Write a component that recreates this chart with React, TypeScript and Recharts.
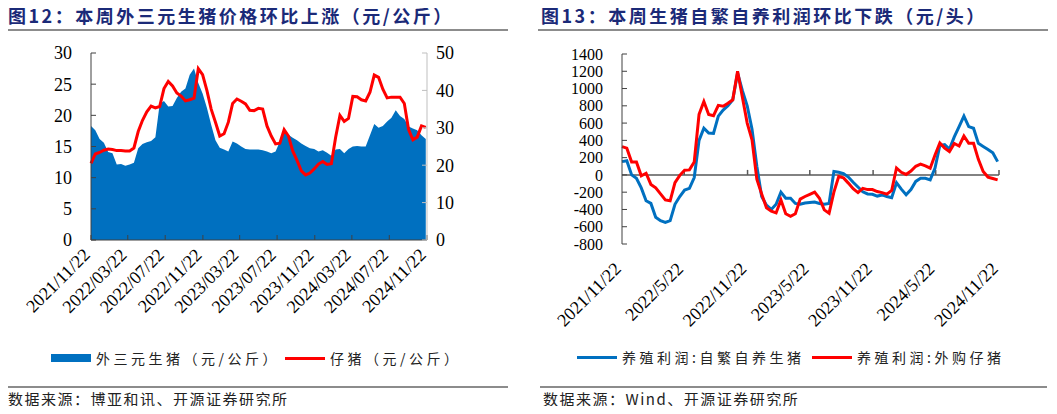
import React from "react";
import { ComposedChart, LineChart, Area, Line, XAxis, YAxis, ReferenceLine } from "recharts";

// weekly series sampled every two weeks from 2021/11/22
const START = Date.UTC(2021, 10, 22);
const STEP_DAYS = 14;
const dayOf = (s: string) => {
  const [y, m, d] = s.split("/").map(Number);
  return Math.round((Date.UTC(y, m - 1, d) - START) / 86400000);
};

const leftTickLabels = [
  "2021/11/22", "2022/03/22", "2022/07/22", "2022/11/22", "2023/03/22",
  "2023/07/22", "2023/11/22", "2024/03/22", "2024/07/22", "2024/11/22",
];
const rightTickLabels = [
  "2021/11/22", "2022/5/22", "2022/11/22", "2023/5/22", "2023/11/22", "2024/5/22", "2024/11/22",
];

// 外三元生猪（元/公斤）
const sanYuanPrice = [
  18.3, 17.6, 16.2, 15.6, 14.1, 13.9, 12.1, 12.2, 11.9, 12.1,
  12.4, 14.7, 15.4, 15.7, 15.9, 16.5, 21.8, 22.3, 21.4, 21.5,
  22.8, 23.8, 24.3, 26.5, 27.5, 25.2, 23.5, 21.2, 18.5, 16.0,
  14.8, 14.5, 14.2, 15.8, 15.5, 15.0, 14.6, 14.5, 14.5, 14.5,
  14.4, 14.2, 13.9, 14.2, 15.8, 17.1, 16.9, 16.4, 16.0, 15.5,
  15.1, 14.7, 14.6, 14.2, 14.4, 14.0, 13.5, 14.5, 14.6, 13.9,
  14.6, 15.0, 15.1, 15.0, 15.0, 16.8, 18.6, 18.0, 18.3, 19.0,
  19.6, 20.8, 19.9, 19.4, 18.2, 17.9, 17.6, 16.8, 16.2,
];
// 仔猪（元/公斤）
const pigletPrice = [
  20.5, 23.0, 23.4, 24.0, 24.3, 24.2, 23.9, 23.9, 23.8, 23.8,
  24.6, 29.0, 32.0, 34.3, 35.8, 35.3, 35.7, 40.5, 42.4, 41.2,
  39.3, 38.5, 37.2, 37.5, 37.9, 45.8, 44.2, 40.0, 35.0, 31.5,
  27.8, 28.4, 31.5, 36.5, 37.7, 37.1, 36.4, 34.7, 34.6, 35.2,
  35.0, 30.5, 27.8, 25.7, 25.9, 29.5, 27.8, 23.8, 21.3, 18.5,
  17.4, 17.9, 19.0, 20.3, 21.0, 20.2, 20.4, 27.5, 33.3, 31.7,
  32.5, 38.4, 38.3, 37.5, 37.2, 39.5, 44.1, 43.5, 40.3, 38.0,
  38.2, 38.2, 38.2, 36.5, 29.5, 26.8, 27.5, 30.5, 30.1,
];
// 养殖利润:自繁自养生猪（元/头）
const profitSelfBred = [
  154, 165, 0, -39, -150, -300, -330, -490, -530, -550,
  -530, -340, -250, -175, -155, -30, 400, 540, 485, 480,
  680, 750, 800, 870, 1180, 975, 800, 530, 100, -250,
  -350, -400, -340, -200, -270, -270, -330, -340, -325, -320,
  -315, -330, -339, -330, 40, 30, 15, -25, -85, -140,
  -195, -220, -225, -245, -232, -250, -265, -90, -165, -230,
  -170, -75, -39, -39, -58, 80, 340, 350, 300, 440,
  560, 680, 559, 540, 365, 330, 295, 255, 154,
];
// 养殖利润:外购仔猪（元/头）
const profitPurchased = [
  327, 310, 150, 150, -10, 19, -110, -150, -220, -289,
  -300, -90, -5, 55, 58, 150, 700, 850, 700, 685,
  805, 795, 830, 870, 1200, 900, 600, 405, -50, -220,
  -380, -420, -440, -289, -450, -480, -450, -280, -250, -225,
  -200, -270, -405, -443, -200, -19, -35, -95, -160, -205,
  -155, -170, -170, -193, -205, -222, -180, 80, 30, 5,
  45, 100, 125, 105, 78, 230, 370, 310, 270, 365,
  335, 450, 366, 366, 180, 40, -25, -42, -58,
];

const priceData = sanYuanPrice.map((v, i) => ({ day: i * STEP_DAYS, sanYuan: v, piglet: pigletPrice[i] }));
const profitData = profitSelfBred.map((v, i) => ({ day: i * STEP_DAYS, selfBred: v, purchased: profitPurchased[i] }));

const leftTicks = leftTickLabels.map(dayOf);
const rightTicks = rightTickLabels.map(dayOf);
const END_DAY = dayOf("2024/11/22");

const BLUE = "#0070c0";
const RED = "#ff0000";
const SERIF = "'Liberation Serif', 'Times New Roman', serif";
const CJK = "'Noto Sans CJK SC', sans-serif";

const SlantTick = ({ x, y, payload, ticks, labels }: any) => {
  const label = labels[ticks.indexOf(payload.value)] ?? "";
  return (
    <text
      x={x}
      y={y}
      textAnchor="end"
      fontSize={18}
      fontFamily={SERIF}
      fill="#000"
      transform={`rotate(-45 ${x} ${y})`}
    >
      {label}
    </text>
  );
};

const tickFont = { fontSize: 18, fontFamily: SERIF, fill: "#000" };

function Title({ left, width, text }: { left: number; width: number; text: string }) {
  return (
    <>
      <div
        style={{
          position: "absolute", left, top: 5, fontSize: 18, lineHeight: "20px", fontWeight: 700,
          fontFamily: CJK, color: "#1b2a78", letterSpacing: 2.5, whiteSpace: "nowrap",
        }}
      >
        {text}
      </div>
      <div style={{ position: "absolute", left: left - 3, top: 29, width, height: 2, background: "#8c8c8c" }} />
    </>
  );
}

function Footer({ left, width, text }: { left: number; width: number; text: string }) {
  return (
    <>
      <div style={{ position: "absolute", left: left - 3, top: 386, width, height: 2, background: "#8c8c8c" }} />
      <div
        style={{
          position: "absolute", left, top: 390, fontSize: 15, lineHeight: "18px",
          fontFamily: CJK, color: "#222", letterSpacing: 1.5, whiteSpace: "nowrap",
        }}
      >
        {text}
      </div>
    </>
  );
}

function LegendItem({ left, top, color, label, box }: { left: number; top: number; color: string; label: string; box?: boolean }) {
  return (
    <div style={{ position: "absolute", left, top, display: "flex", alignItems: "center", whiteSpace: "nowrap" }}>
      <div style={{ width: 40, height: box ? 8 : 3, background: color, marginRight: 5 }} />
      <span style={{ fontSize: 14, fontFamily: CJK, color: "#222", letterSpacing: 3.5, lineHeight: "18px" }}>{label}</span>
    </div>
  );
}

export default function App() {
  return (
    <div style={{ position: "relative", margin: -8, width: 1057, height: 414, background: "#fff", overflow: "hidden" }}>
      <Title left={8} width={503} text="图12：本周外三元生猪价格环比上涨（元/公斤）" />
      <Title left={541} width={510} text="图13：本周生猪自繁自养利润环比下跌（元/头）" />

      <div style={{ position: "absolute", left: 0, top: 0 }}>
        <ComposedChart width={530} height={414} data={priceData} margin={{ top: 53, right: 43, bottom: 84, left: 0 }}>
          <XAxis
            dataKey="day"
            type="number"
            domain={[0, END_DAY]}
            ticks={leftTicks}
            interval={0}
            stroke="#404040"
            tickSize={-5}
            tickMargin={21}
            height={90}
            tick={<SlantTick ticks={leftTicks} labels={leftTickLabels} />}
          />
          <YAxis
            yAxisId="left"
            domain={[0, 30]}
            ticks={[0, 5, 10, 15, 20, 25, 30]}
            interval={0}
            width={91}
            stroke="#404040"
            tickSize={-5}
            tickMargin={24}
            tick={tickFont}
          />
          <YAxis
            yAxisId="right"
            orientation="right"
            domain={[0, 50]}
            ticks={[0, 10, 20, 30, 40, 50]}
            interval={0}
            width={60}
            stroke="#bfbfbf"
            tickSize={-5}
            tickMargin={14}
            tick={{ ...tickFont, textAnchor: "start" }}
          />
          <Area
            yAxisId="left"
            type="linear"
            dataKey="sanYuan"
            fill={BLUE}
            fillOpacity={1}
            stroke="none"
            isAnimationActive={false}
          />
          <Line
            yAxisId="right"
            type="linear"
            dataKey="piglet"
            stroke={RED}
            strokeWidth={3}
            dot={false}
            isAnimationActive={false}
          />
        </ComposedChart>
      </div>

      <div style={{ position: "absolute", left: 530, top: 0 }}>
        <LineChart width={527} height={414} data={profitData} margin={{ top: 54, right: 58, bottom: 80, left: 0 }}>
          <XAxis
            dataKey="day"
            type="number"
            domain={[0, END_DAY]}
            ticks={rightTicks}
            interval={0}
            axisLine={false}
            tickLine={false}
            tickMargin={20}
            height={90}
            tick={<SlantTick ticks={rightTicks} labels={rightTickLabels} />}
          />
          <YAxis
            domain={[-800, 1400]}
            ticks={[-800, -600, -400, -200, 0, 200, 400, 600, 800, 1000, 1200, 1400]}
            interval={0}
            width={92}
            stroke="#404040"
            tickSize={-5}
            tickMargin={24}
            tick={{ ...tickFont, fontSize: 16 }}
          />
          <ReferenceLine y={0} stroke="#595959" strokeWidth={1.5} />
          {rightTicks.slice(1).map((d) => (
            <ReferenceLine key={d} segment={[{ x: d, y: 0 }, { x: d, y: 58 }]} stroke="#595959" strokeWidth={1.5} />
          ))}
          <Line type="linear" dataKey="selfBred" stroke={BLUE} strokeWidth={3} dot={false} isAnimationActive={false} />
          <Line type="linear" dataKey="purchased" stroke={RED} strokeWidth={3} dot={false} isAnimationActive={false} />
        </LineChart>
      </div>

      <LegendItem left={51} top={349} color={BLUE} label="外三元生猪（元/公斤）" box />
      <LegendItem left={285} top={349} color={RED} label="仔猪（元/公斤）" />
      <LegendItem left={577} top={348} color={BLUE} label="养殖利润:自繁自养生猪" />
      <LegendItem left={812} top={348} color={RED} label="养殖利润:外购仔猪" />

      <Footer left={8} width={503} text="数据来源：博亚和讯、开源证券研究所" />
      <Footer left={543} width={507} text="数据来源：Wind、开源证券研究所" />
    </div>
  );
}
